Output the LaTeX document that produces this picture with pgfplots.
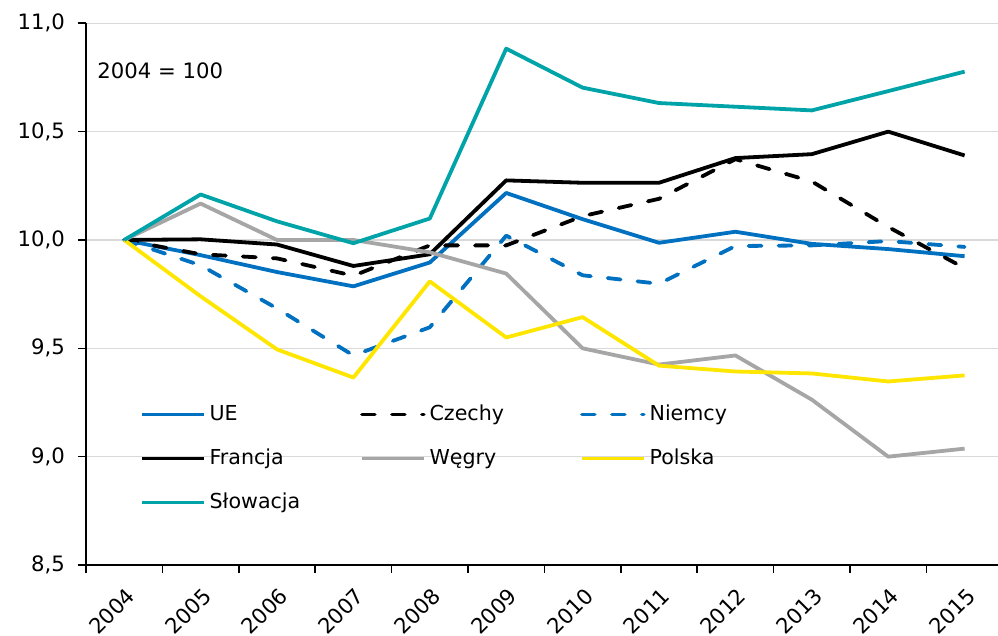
\documentclass[border=0pt]{standalone}
\usepackage{fontspec}
\setmainfont{DejaVu Sans}
\usepackage{pgfplots}
\pgfplotsset{compat=1.18}
\definecolor{ueblue}{HTML}{0070C0}
\definecolor{hugray}{HTML}{A6A6A6}
\definecolor{plyellow}{HTML}{FFE600}
\definecolor{skteal}{HTML}{00A3A8}
\definecolor{gridc}{HTML}{D9D9D9}
\begin{document}
\begin{tikzpicture}
\begin{axis}[
  at={(0,0)}, anchor=south west,
  scale only axis,
  width=456pt, height=270.85pt,
  xmin=-0.5, xmax=11.437,
  ymin=8.5, ymax=11,
  font=\fontsize{10.6}{12}\selectfont,
  axis x line*=bottom, axis y line*=left,
  axis line style={black, line width=1pt},
  ytick={8.5,9,9.5,10,10.5,11},
  yticklabel style={xshift=-3pt, /pgf/number format/.cd, fixed, fixed zerofill, precision=1, use comma, assume math mode=true},
  xtick={-0.5,0.5,...,10.5},
  xticklabels={},
  extra x ticks={0,1,2,3,4,5,6,7,8,9,10,11},
  extra x tick labels={2004,2005,2006,2007,2008,2009,2010,2011,2012,2013,2014,2015},
  extra x tick style={major tick length=0pt, xticklabel style={yshift=-10.5pt, xshift=0.5pt, rotate=45, anchor=north east, inner sep=0pt}},
  major tick length=4pt,
  tick align=outside,
  tick style={black, line width=0.8pt},
  ymajorgrids,
  grid style={gridc, line width=0.6pt},
  clip=false,
  legend columns=3,
  legend cell align=left,
  legend style={at={(rel axis cs:0.059,0.305)}, anchor=north west, draw=none, fill=none, inner sep=0pt,
    row sep=7.5pt, font=\fontsize{10.3}{12}\selectfont,
    nodes={text width=73.3pt, text height=8pt, text depth=2.5pt, inner sep=2pt, align=left},
    /tikz/every odd column/.append style={column sep=0pt},
    /tikz/every even column/.append style={column sep=0pt}},
  legend image code/.code={\draw[#1, line width=1.7pt] (0pt,0pt) -- (31pt,0pt);},
  every axis plot/.append style={line width=1.9pt, line join=round},
]
\addplot[ueblue] coordinates {(0,10.0) (1,9.93) (2,9.852) (3,9.786) (4,9.896) (5,10.217) (6,10.096) (7,9.987) (8,10.038) (9,9.982) (10,9.958) (11,9.925)};
\addlegendentry{UE}
\addplot[black, dash pattern=on 6.5pt off 8.5pt, line cap=round] coordinates {(0,10.0) (1,9.934) (2,9.915) (3,9.835) (4,9.975) (5,9.975) (6,10.11) (7,10.19) (8,10.373) (9,10.27) (10,10.06) (11,9.87)};
\addlegendentry{Czechy}
\addplot[ueblue, dash pattern=on 6.5pt off 8.5pt, line cap=round] coordinates {(0,10.0) (1,9.883) (2,9.684) (3,9.467) (4,9.597) (5,10.02) (6,9.837) (7,9.798) (8,9.972) (9,9.975) (10,9.995) (11,9.968)};
\addlegendentry{Niemcy}
\addplot[black] coordinates {(0,10.0) (1,10.003) (2,9.979) (3,9.88) (4,9.934) (5,10.275) (6,10.264) (7,10.264) (8,10.378) (9,10.396) (10,10.5) (11,10.39)};
\addlegendentry{Francja}
\addplot[hugray] coordinates {(0,10.0) (1,10.168) (2,10.0) (3,10.0) (4,9.943) (5,9.845) (6,9.5) (7,9.425) (8,9.467) (9,9.263) (10,9.0) (11,9.037)};
\addlegendentry{Węgry}
\addplot[plyellow] coordinates {(0,10.0) (1,9.74) (2,9.495) (3,9.365) (4,9.809) (5,9.55) (6,9.644) (7,9.42) (8,9.393) (9,9.384) (10,9.347) (11,9.375)};
\addlegendentry{Polska}
\addplot[skteal] coordinates {(0,10.0) (1,10.21) (2,10.086) (3,9.985) (4,10.099) (5,10.883) (6,10.703) (7,10.632) (8,10.615) (9,10.598) (10,10.687) (11,10.777)};
\addlegendentry{Słowacja}
\node[anchor=west, inner sep=0pt] at (axis cs:-0.356,10.782) {2004 = 100};
\end{axis}
\pgfresetboundingbox
\path (-43pt,-35.5pt) rectangle (456pt,282.5pt);
\end{tikzpicture}
\end{document}
